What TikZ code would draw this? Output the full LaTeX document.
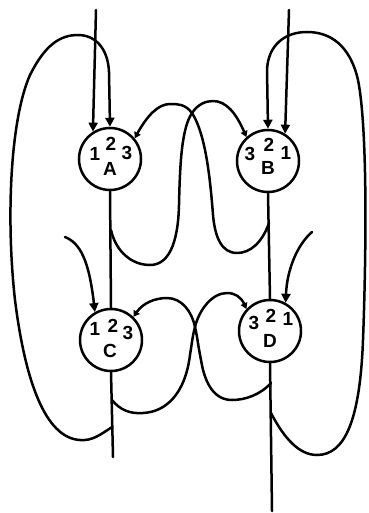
\documentclass[tikz,border=0pt]{standalone}
\usepackage{fontspec}
\setmainfont{Liberation Sans}
\usetikzlibrary{arrows.meta}
\begin{document}
\begin{tikzpicture}[x=1pt,y=-1pt,
  wire/.style={line width=2.5pt,line cap=round,line join=round},
  arr/.style={wire,-{Triangle[length=9pt,width=9pt]}},
  sarr/.style={wire,-{Triangle[length=6pt,width=7pt]}},
  gate/.style={circle,draw,line width=2.5pt,minimum size=62pt,inner sep=0pt},
  lab/.style={inner sep=0pt,font=\fontsize{19}{19}\selectfont\bfseries}]
\useasboundingbox (0,0) rectangle (368,513);
% gates
\node[gate] (A) at (110,159) {};
\node[gate] (B) at (268,161) {};
\node[gate] (C) at (111,340) {};
\node[gate] (D) at (270,331) {};
% labels
\node[lab] (A1) at (95,154) {1};
\node[lab] (A2) at (111,144) {2};
\node[lab] (A3) at (127,153) {3};
\node[lab] (An) at (110,169) {A};
\node[lab] (B3) at (250,154) {3};
\node[lab] (B2) at (269,145) {2};
\node[lab] (B1) at (286,153) {1};
\node[lab] (Bn) at (268,168) {B};
\node[lab] (C1) at (95,329) {1};
\node[lab] (C2) at (113,326) {2};
\node[lab] (C3) at (128,333) {3};
\node[lab] (Cn) at (110,351) {C};
\node[lab] (D3) at (254,323) {3};
\node[lab] (D2) at (271,316) {2};
\node[lab] (D1) at (288,319) {1};
\node[lab] (Dn) at (270,341) {D};
% free ends and junctions
\coordinate (topA) at (96,10);
\coordinate (topB) at (289,10);
\coordinate (inC) at (65,237);
\coordinate (inD) at (312,232);
\coordinate (botL) at (113,457);
\coordinate (botR) at (272,511);
\coordinate (jA) at (111,230);
\coordinate (jB) at (269,223);
\coordinate (jC1) at (112,400);
\coordinate (jC2) at (112,427);
\coordinate (jD1) at (271,383);
\coordinate (jD2) at (271,413);
% main lines
\draw[arr] (topA) -- (A.122);
\draw[arr] (topB) -- (B.58);
\draw[wire] (A.south) -- (C.north);
\draw[wire] (C.south) -- (botL);
\draw[wire] (B.south) -- (D.north);
\draw[wire] (D.south) -- (botR);
% inputs to port 1 of C and D
\draw[arr] (inC) .. controls (80,243) and (89,260) .. (C.120);
\draw[arr] (inD) .. controls (297,245) and (287,270) .. (D.61);
% A -> B3
\draw[sarr] (jA) .. controls (116,252) and (132,265) .. (150,265)
  .. controls (168,265) and (178,245) .. (179,205)
  .. controls (180,160) and (182,128) .. (192,113)
  .. controls (198,104) and (206,101) .. (213,101)
  .. controls (226,101) and (236,113) .. (B.132);
% B -> A3
\draw[sarr] (jB) .. controls (262,243) and (250,253) .. (237,253)
  .. controls (222,253) and (215,238) .. (213,215)
  .. controls (210,175) and (205,133) .. (192,113)
  .. controls (185,104) and (178,104) .. (170,104)
  .. controls (158,104) and (147,116) .. (A.40);
% D -> C3
\draw[sarr] (jD1) .. controls (260,395) and (245,400) .. (232,400)
  .. controls (215,400) and (205,385) .. (201,360)
  .. controls (198,345) and (197,335) .. (195,327)
  .. controls (192,312) and (182,298) .. (167,298)
  .. controls (155,298) and (143,303) .. (C.46);
% C -> D3
\draw[sarr] (jC1) .. controls (120,410) and (130,414) .. (143,413)
  .. controls (165,412) and (185,395) .. (190,355)
  .. controls (192,342) and (193,334) .. (195,327)
  .. controls (199,310) and (212,293) .. (227,293)
  .. controls (235,293) and (241,297) .. (D.137);
% big left loop -> A2
\draw[arr] (jC2) .. controls (100,435) and (92,441) .. (80,440)
  .. controls (45,438) and (25,380) .. (15,300)
  .. controls (6,220) and (10,120) .. (30,75)
  .. controls (45,45) and (60,35) .. (78,35)
  .. controls (95,35) and (108,48) .. (109,72) -- (A.90);
% big right loop -> B2
\draw[arr] (jD2) .. controls (285,440) and (300,455) .. (317,455)
  .. controls (345,455) and (360,420) .. (363,340)
  .. controls (366,260) and (368,130) .. (358,80)
  .. controls (350,45) and (330,32) .. (307,32)
  .. controls (285,32) and (268,45) .. (267,70) -- (B.90);
\end{tikzpicture}
\end{document}
